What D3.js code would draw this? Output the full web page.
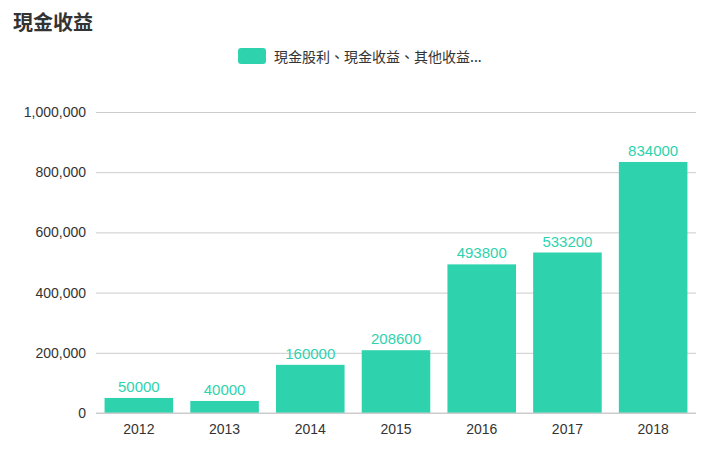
<!DOCTYPE html>
<html>
<head>
<meta charset="utf-8">
<script src="https://cdn.jsdelivr.net/npm/d3@7"></script>
<style>
  html, body { margin: 0; padding: 0; background: #fff; }
  svg { display: block; font-family: "Noto Sans CJK TC", "Helvetica Neue", Arial, sans-serif; }
</style>
</head>
<body>
<svg id="chart" width="720" height="459"></svg>
<script>
// Cash income by year
const years = ["2012", "2013", "2014", "2015", "2016", "2017", "2018"];
const income = [50000, 40000, 160000, 208600, 493800, 533200, 834000];
const yTicks = [0, 200000, 400000, 600000, 800000, 1000000];
const seriesName = "現金股利、現金收益、其他收益...";
const titleText = "現金收益";

const color = "#2ed3ae";
const svg = d3.select("#chart");

const x = d3.scaleBand().domain(years).range([96, 696]).paddingInner(0.2).paddingOuter(0.1);
const y = d3.scaleLinear().domain([0, 1000000]).range([413, 112]);

// title
svg.append("text").attr("x", 13).attr("y", 30)
  .attr("font-size", 20).attr("font-weight", "bold").attr("fill", "#333")
  .text(titleText);

// legend
svg.append("rect").attr("x", 238).attr("y", 48).attr("width", 28).attr("height", 16)
  .attr("rx", 3).attr("fill", color);
svg.append("text").attr("x", 274).attr("y", 62)
  .attr("font-size", 14).attr("fill", "#333").text(seriesName);

// gridlines + y axis
const yAxis = d3.axisLeft(y).tickValues(yTicks).tickFormat(d3.format(","))
  .tickSize(-600).tickPadding(10);
const gy = svg.append("g").attr("transform", "translate(96,0)").call(yAxis);
gy.select(".domain").remove();
gy.selectAll(".tick line").attr("stroke", "#ccc").attr("x1", 0);
gy.selectAll(".tick text").attr("font-size", 14).attr("fill", "#333")
  .attr("font-family", "Helvetica, Arial, sans-serif");

// bars
svg.append("g").selectAll("rect").data(years).join("rect")
  .attr("x", d => x(d))
  .attr("width", x.bandwidth())
  .attr("y", (d, i) => y(income[i]))
  .attr("height", (d, i) => y(0) - y(income[i]))
  .attr("fill", color);

// value labels
svg.append("g").selectAll("text").data(years).join("text")
  .attr("x", d => x(d) + x.bandwidth() / 2)
  .attr("y", (d, i) => y(income[i]) - 6)
  .attr("text-anchor", "middle")
  .attr("font-size", 15).attr("fill", color)
  .attr("font-family", "Helvetica, Arial, sans-serif")
  .text((d, i) => income[i]);

// x axis
const xAxis = d3.axisBottom(x).tickSize(0).tickPadding(11);
const gx = svg.append("g").attr("transform", "translate(0,413)").call(xAxis);
gx.select(".domain").attr("stroke", "#ccc").attr("d", "M96,0H696");
gx.selectAll(".tick text").attr("font-size", 14).attr("fill", "#333")
  .attr("font-family", "Helvetica, Arial, sans-serif");
</script>
</body>
</html>
